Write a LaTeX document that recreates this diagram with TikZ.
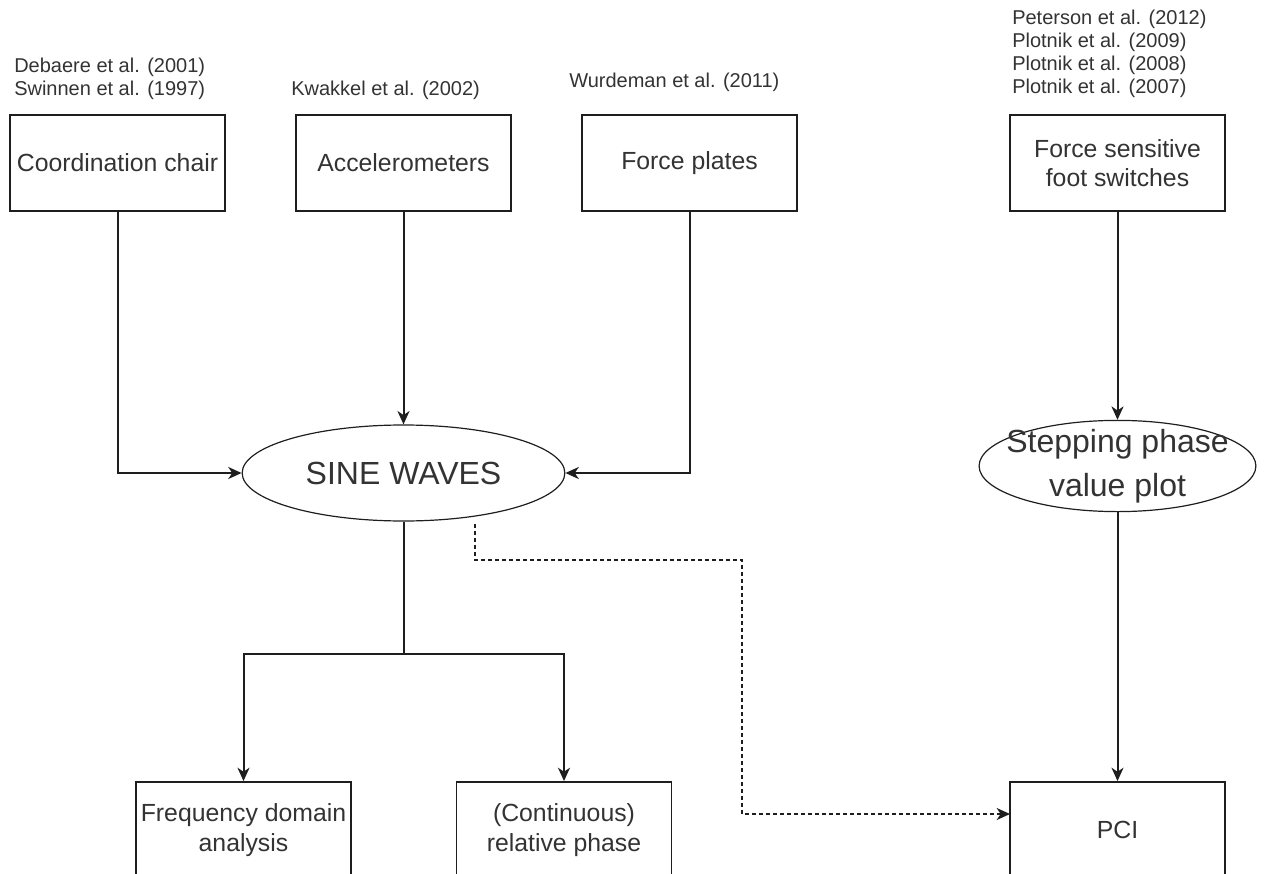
\documentclass[tikz,border=0pt]{standalone}
\usepackage{fontspec}
\setmainfont{Liberation Sans}
\usepackage{tikz}
\usetikzlibrary{shapes.geometric, arrows.meta}
\definecolor{txtGrey}{RGB}{51, 51, 51}
\definecolor{lineGrey}{RGB}{30, 30, 30}

\begin{document}
\begin{tikzpicture}[x=0.75pt, y=-0.75pt,
    box/.style={draw=lineGrey, line width=1.4pt, rectangle, minimum width=161.25pt,
      minimum height=72pt, align=center, text=txtGrey,
      font=\fontsize{18.6}{22}\selectfont},
    oval/.style={draw=lineGrey, line width=0.9pt, ellipse, inner sep=0pt, align=center,
      text=txtGrey, font=\fontsize{24}{33}\selectfont},
    cite/.style={anchor=west, inner sep=0pt, align=left, text=txtGrey,
      font=\fontsize{15}{17.25}\selectfont},
    conn/.style={draw=lineGrey, line width=1.5pt, -{Stealth[length=10pt, width=9pt, inset=3pt]}},
    dashline/.style={conn, dash pattern=on 3pt off 2.25pt}]
      \useasboundingbox (0,0) rectangle (1268,874);
      \clip (0,0) rectangle (1268,874);

      % sources
      \node[box] (cchair) at (117.5,163) {Coordination chair};
      \node[box] (accel) at (403.5,163) {Accelerometers};
      \node[box] (fplates) at (689.5,163) {Force plates};
      \node[box] (fswitch) at (1117.5,163) {Force sensitive\\foot switches};

      \node[cite] (citeA) at (14,78.5) {Debaere et al. (2001)\\Swinnen et al. (1997)};
      \node[cite] (citeB) at (291,90) {Kwakkel et al. (2002)};
      \node[cite] (citeC) at (569,82) {Wurdeman et al. (2011)};
      \node[cite] (citeD) at (1012,53.5) {Peterson et al. (2012)\\Plotnik et al. (2009)\\Plotnik et al. (2008)\\Plotnik et al. (2007)};

      % signals
      \node[oval, minimum width=242pt, minimum height=72pt] (sine) at (403.5,473) {SINE WAVES};
      \node[oval, inner xsep=-10pt, inner ysep=-3.5pt] (stepping) at (1117.5,466) {Stepping phase\\value plot};

      % analyses
      \node[box] (freq) at (243.5,830) {Frequency domain\\analysis};
      \node[box] (relph) at (564,830) {(Continuous)\\relative phase};
      \node[box] (pci) at (1117.5,830) {PCI};

      \draw[conn] (cchair.south) |- (sine.west);
      \draw[conn] (accel.south) -- (sine.north);
      \draw[conn] (fplates.south) |- (sine.east);
      \draw[conn] (fswitch.south) -- (stepping.north);
      \draw[conn] (stepping.south) -- (pci.north);

      \coordinate (split) at (403.5,654);
      \draw[draw=lineGrey, line width=1.5pt] (sine.south) -- (split);
      \draw[conn] (split) -| (freq.north);
      \draw[conn] (split) -| (relph.north);

      % link to PCI
      \coordinate (dstart) at (475,524);
      \coordinate (dbend) at (742,560);
      \coordinate (pciin) at (1010,814);
      \draw[dashline] (dstart) |- (dbend) |- (pciin);
    \end{tikzpicture}
\end{document}
